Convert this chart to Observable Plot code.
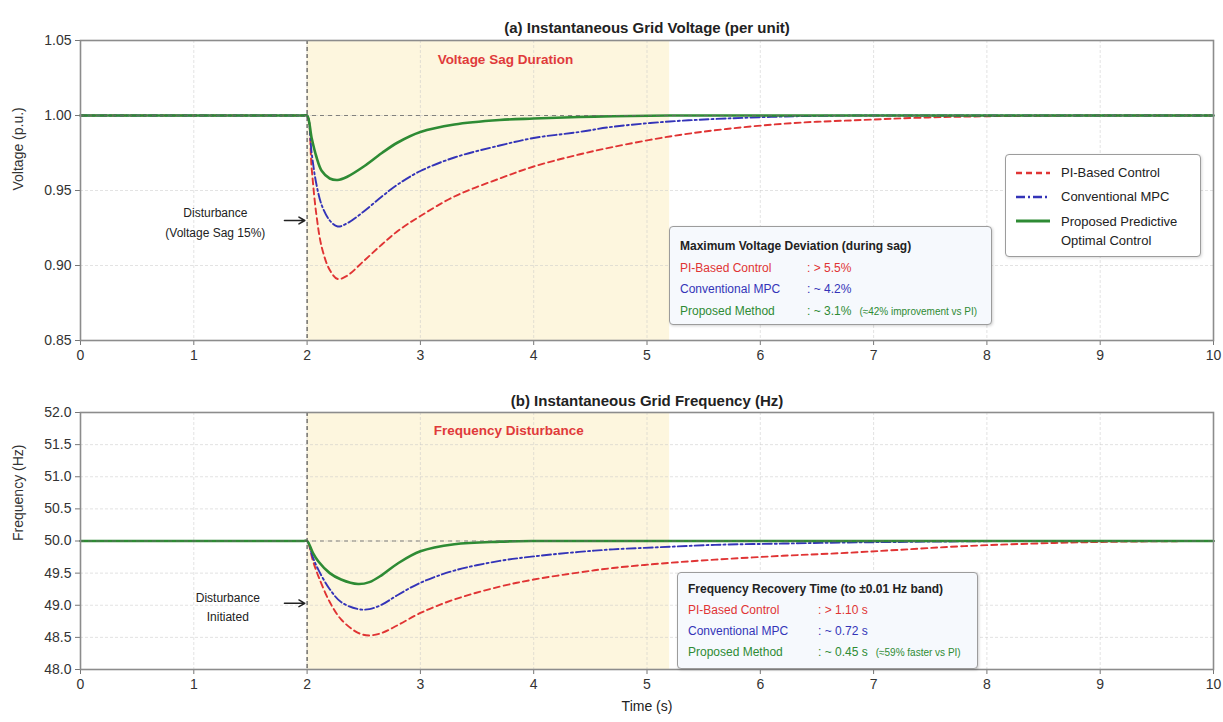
<!DOCTYPE html>
<html><head><meta charset="utf-8">
<script src="https://cdn.jsdelivr.net/npm/d3@7"></script>
<script src="https://cdn.jsdelivr.net/npm/@observablehq/plot@0.6"></script>
<style>
body{margin:0;background:#fff;font-family:"Liberation Sans",Arial,sans-serif;}
#wrap{position:relative;width:1223px;height:722px;overflow:hidden;}
#wrap svg{display:block;}
.box{position:absolute;background:#f6f9fd;border:1.3px solid #9c9c9c;border-radius:4px;box-shadow:1px 1px 3px rgba(0,0,0,0.18);box-sizing:border-box;}
.row{display:flex;white-space:nowrap;font-size:12px;}
.hdr{font-size:12px;color:#222;font-weight:600;}
.nm{display:inline-block;}
.sm{font-size:10px;margin-left:8px;}
.leg{position:absolute;background:#fff;border:1.3px solid #9c9c9c;border-radius:4px;box-shadow:1px 1px 3px rgba(0,0,0,0.15);box-sizing:border-box;font-size:13px;color:#222;}
.lrow{display:flex;align-items:flex-start;}
.lrow svg{flex:none;margin-right:10px;}
</style></head><body><div id="wrap"></div>
<script>
// ---------- data ----------
const seriesNames = ["PI-Based Control", "Conventional MPC", "Proposed Predictive Optimal Control"];
const seriesColors = ["#e03434", "#3434b8", "#2e8b34"];
const xTicks = [0, 1, 2, 3, 4, 5, 6, 7, 8, 9, 10];
const vTicks = [0.85, 0.90, 0.95, 1.00, 1.05];
const fTicks = [48.0, 48.5, 49.0, 49.5, 50.0, 50.5, 51.0, 51.5, 52.0];

const timeV = [0, 1.0, 1.9, 1.97, 2.0, 2.04, 2.08, 2.13, 2.2, 2.27, 2.35, 2.5, 2.66, 2.8, 3.0, 3.3, 3.7, 4.0, 4.4, 4.7, 5.2, 5.7, 6.3, 6.9, 7.4, 8.0, 9.0, 10];
const voltPI   = [1, 1, 1, 1, 1, 0.965, 0.935, 0.912, 0.897, 0.891, 0.893, 0.903, 0.914, 0.923, 0.933, 0.946, 0.958, 0.966, 0.974, 0.979, 0.986, 0.991, 0.995, 0.997, 0.9985, 0.9995, 1.0, 1.0];
const voltMPC  = [1, 1, 1, 1, 1, 0.975, 0.955, 0.940, 0.930, 0.926, 0.928, 0.936, 0.946, 0.954, 0.963, 0.972, 0.980, 0.985, 0.989, 0.9925, 0.996, 0.998, 0.9995, 1, 1, 1, 1, 1];
const voltProp = [1, 1, 1, 1, 1, 0.985, 0.973, 0.963, 0.958, 0.957, 0.959, 0.966, 0.975, 0.982, 0.989, 0.994, 0.997, 0.998, 0.999, 0.9995, 1.0, 1, 1, 1, 1, 1, 1, 1];

const timeF = [0, 1.0, 1.9, 1.97, 2.0, 2.05, 2.1, 2.2, 2.3, 2.45, 2.55, 2.66, 2.8, 3.0, 3.3, 3.7, 4.0, 4.4, 4.7, 5.2, 5.6, 6.2, 6.7, 7.2, 7.8, 8.6, 9.2, 10];
const freqPI   = [50, 50, 50, 50, 50, 49.70, 49.45, 49.05, 48.78, 48.57, 48.53, 48.57, 48.69, 48.88, 49.09, 49.29, 49.40, 49.51, 49.58, 49.66, 49.71, 49.77, 49.81, 49.86, 49.92, 49.97, 49.99, 50];
const freqMPC  = [50, 50, 50, 50, 50, 49.75, 49.55, 49.25, 49.05, 48.94, 48.94, 49.01, 49.16, 49.35, 49.54, 49.69, 49.76, 49.83, 49.87, 49.91, 49.94, 49.96, 49.975, 49.985, 49.995, 50, 50, 50];
const freqProp = [50, 50, 50, 50, 50, 49.82, 49.68, 49.50, 49.40, 49.33, 49.36, 49.47, 49.65, 49.84, 49.95, 49.99, 50, 50, 50, 50, 50, 50, 50, 50, 50, 50, 50, 50];

const sagWindow = [2, 5.2];          // shaded disturbance period (s)
const disturbanceTime = [2];
const nominalV = [1.0];
const nominalF = [50.0];

// annotation anchors (data units)
const voltNoteText = ["Voltage Sag Duration"];
const voltNotePos = [3.75, 1.037];
const voltDistText = ["Disturbance\n(Voltage Sag 15%)"];
const voltDistPos = [1.19, 0.930];
const voltArrow = [1.80, 1.98, 0.930];
const freqNoteText = ["Frequency Disturbance"];
const freqNotePos = [3.78, 51.72];
const freqDistText = ["Disturbance\nInitiated"];
const freqDistPos = [1.30, 49.0];
const freqArrow = [1.80, 1.98, 49.03];

const voltTitle = "(a) Instantaneous Grid Voltage (per unit)";
const freqTitle = "(b) Instantaneous Grid Frequency (Hz)";
const voltYLabel = "Voltage (p.u.)";
const freqYLabel = "Frequency (Hz)";
const xLabel = "Time (s)";

const voltBoxTitle = "Maximum Voltage Deviation (during sag)";
const voltBoxNames = ["PI-Based Control", "Conventional MPC", "Proposed Method"];
const voltBoxVals = [": > 5.5%", ": ~ 4.2%", ": ~ 3.1%"];
const voltBoxNote = ["", "", "(≈42% improvement vs PI)"];
const freqBoxTitle = "Frequency Recovery Time (to ±0.01 Hz band)";
const freqBoxNames = ["PI-Based Control", "Conventional MPC", "Proposed Method"];
const freqBoxVals = [": > 1.10 s", ": ~ 0.72 s", ": ~ 0.45 s"];
const freqBoxNote = ["", "", "(≈59% faster vs PI)"];

// ---------- styles ----------
const FONT = '"Liberation Sans", Arial, sans-serif';
const dash = ["6,4", "9,3,2,3", null];
const widths = [1.9, 1.9, 2.6];

function rows(t, arrs) {
  return arrs.map((a, k) => t.map((x, i) => ({t: x, v: a[i], s: seriesNames[k]})));
}

function panel(opts) {
  const {height, mt, mb, domain, ticks, fmt, data, nominal, title, ylabel, notes, extra} = opts;
  const [d0, d1] = domain;
  const marks = [
    Plot.rect([{x1: sagWindow[0], x2: sagWindow[1], y1: d0, y2: d1}], {x1: "x1", x2: "x2", y1: "y1", y2: "y2", fill: "#fdf6de"}),
    Plot.gridX(xTicks, {stroke: "#c8c8c8", strokeOpacity: 0.5, strokeDasharray: "3,2"}),
    Plot.gridY(ticks, {stroke: "#c8c8c8", strokeOpacity: 0.5, strokeDasharray: "3,2"}),
  ];
  data.forEach((d, k) => marks.push(Plot.line(d, {x: "t", y: "v", stroke: seriesColors[k], strokeWidth: widths[k], strokeDasharray: dash[k], curve: "catmull-rom"})));
  marks.push(
    Plot.ruleY(nominal, {stroke: "#666", strokeWidth: 1.2, strokeDasharray: "4,4", strokeOpacity: 0.8}),
    Plot.ruleX(disturbanceTime, {stroke: "#555", strokeWidth: 1.2, strokeDasharray: "4,3"}),
    Plot.axisX(xTicks, {tickSize: 5, tickPadding: 5, label: null, tickFormat: d3.format("d"), stroke: "#777", fill: "#333", fontSize: 14}),
    Plot.axisY(ticks, {tickSize: 5, tickPadding: 4, label: null, tickFormat: fmt, stroke: "#777", fill: "#333", fontSize: 14}),
    Plot.frame({stroke: "#8c8c8c", strokeWidth: 1.6}),
    Plot.text([title], {frameAnchor: "top", dy: opts.titleDy, fontSize: 15, fontWeight: "bold", fill: "#222"}),
    Plot.text([ylabel], {frameAnchor: "left", dx: -62, rotate: -90, fontSize: 14, fill: "#333"}),
    Plot.text(notes.label, {x: () => notes.pos[0], y: () => notes.pos[1], fill: "#e03a3a", fontSize: 13.5, fontWeight: 600}),
    Plot.text(notes.dist, {x: () => notes.dpos[0], y: () => notes.dpos[1], fill: "#222", fontSize: 12, lineHeight: 1.65}),
    Plot.arrow([{x1: notes.arrow[0], x2: notes.arrow[1], y: notes.arrow[2]}], {x1: "x1", x2: "x2", y1: "y", y2: "y", stroke: "#222", strokeWidth: 1.5, headLength: 7})
  );
  if (extra) marks.push(...extra);
  return Plot.plot({
    width: 1223, height, marginLeft: 80, marginRight: 10, marginTop: mt, marginBottom: mb,
    style: {fontFamily: FONT, fontSize: "14px", color: "#333", background: "transparent", overflow: "visible"},
    x: {domain: [0, 10]},
    y: {domain},
    marks
  });
}

const wrap = document.getElementById("wrap");

const p1 = panel({
  height: 380, mt: 40, mb: 40, domain: [vTicks[0], vTicks[vTicks.length - 1]], ticks: vTicks, fmt: d3.format(".2f"),
  data: rows(timeV, [voltPI, voltMPC, voltProp]), nominal: nominalV, title: voltTitle, titleDy: -18, ylabel: voltYLabel,
  notes: {label: voltNoteText, pos: voltNotePos, dist: voltDistText, dpos: voltDistPos, arrow: voltArrow}
});
const p2 = panel({
  height: 342, mt: 32, mb: 53, domain: [fTicks[0], fTicks[fTicks.length - 1]], ticks: fTicks, fmt: d3.format(".1f"),
  data: rows(timeF, [freqPI, freqMPC, freqProp]), nominal: nominalF, title: freqTitle, titleDy: -17, ylabel: freqYLabel,
  notes: {label: freqNoteText, pos: freqNotePos, dist: freqDistText, dpos: freqDistPos, arrow: freqArrow},
  extra: [Plot.text([xLabel], {frameAnchor: "bottom", dy: 41, fontSize: 14, fill: "#222"})]
});
wrap.appendChild(p1);
wrap.appendChild(p2);

// ---------- summary boxes ----------
function box(left, top, w, h, title, names, vals, notes, nameW, pad, lh) {
  const b = document.createElement("div");
  b.className = "box";
  Object.assign(b.style, {left: left + "px", top: top + "px", width: w + "px", height: h + "px", padding: pad + "px 0 0 10px", lineHeight: lh + "px"});
  let html = `<div class="hdr">${title}</div>`;
  names.forEach((n, i) => {
    html += `<div class="row" style="color:${seriesColors[i]}"><span class="nm" style="width:${nameW}px">${n}</span><span>${vals[i]}</span>${notes[i] ? `<span class="sm">${notes[i]}</span>` : ""}</div>`;
  });
  b.innerHTML = html;
  wrap.appendChild(b);
}
box(669, 226, 323, 99, voltBoxTitle, voltBoxNames, voltBoxVals, voltBoxNote, 127, 9, 21.5);
box(677, 572, 301, 97, freqBoxTitle, freqBoxNames, freqBoxVals, freqBoxNote, 130, 6, 21);

// ---------- legend ----------
const leg = document.createElement("div");
leg.className = "leg";
Object.assign(leg.style, {left: "1005px", top: "154px", width: "196px", height: "103px", padding: "9px 0 0 9px"});
const legLines = [["PI-Based Control"], ["Conventional MPC"], ["Proposed Predictive", "Optimal Control"]];
leg.innerHTML = legLines.map((t, i) => {
  const da = dash[i] ? `stroke-dasharray="${dash[i]}"` : "";
  return `<div class="lrow" style="margin-bottom:${i < 2 ? 6 : 0}px;line-height:${i === 2 ? 19 : 18}px"><svg width="36" height="18"><line x1="1" x2="35" y1="9" y2="9" stroke="${seriesColors[i]}" stroke-width="${widths[i] + 0.4}" ${da}/></svg><div>${t.join("<br>")}</div></div>`;
}).join("");
wrap.appendChild(leg);
</script>
</body></html>
